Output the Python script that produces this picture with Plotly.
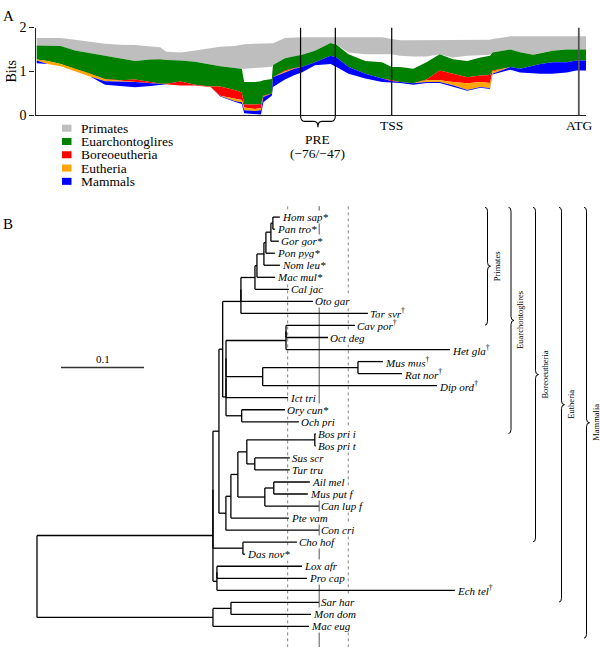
import re
import plotly.graph_objects as go

W, H = 600, 659
SERIF = "Liberation Serif"

# ---------------- Panel A data (position relative to TSS, bp; information in bits) ----------------
positions = [-296, -287, -276, -264, -251, -239, -226, -214, -201, -193, -188, -176, -164, -151, -143,
             -131, -125, -123, -114, -109, -107, -100, -99, -89, -81, -75, -64, -51, -46, -36, -22, -8,
             0, 7, 18, 29, 40, 51, 63, 74, 82, 84, 99, 107, 118, 124, 134, 146, 154, 162]
mammals_lo = [1.19, 1.17, 1.12, 1.00, 0.88, 0.70, 0.66, 0.64, 0.67, 0.70, 0.71, 0.68, 0.68, 0.64, 0.43,
              0.31, 0.26, 0.05, 0.02, 0.02, 0.30, 0.45, 0.65, 0.82, 0.92, 0.98, 1.14, 1.17, 1.10, 0.95, 0.84, 0.76,
              0.75, 0.74, 0.70, 0.74, 0.74, 0.66, 0.56, 0.63, 0.60, 0.93, 1.04, 0.98, 0.95, 0.95, 0.95, 0.98, 1.02, 1.02]
mammals_hi = [1.25, 1.17, 1.12, 1.00, 0.88, 0.78, 0.77, 0.76, 0.73, 0.72, 0.71, 0.68, 0.68, 0.64, 0.44,
              0.33, 0.30, 0.12, 0.10, 0.12, 0.42, 0.50, 0.87, 0.98, 1.06, 1.10, 1.21, 1.36, 1.32, 1.10, 0.95, 0.84,
              0.78, 0.76, 0.73, 0.76, 0.76, 0.69, 0.58, 0.65, 0.62, 0.95, 1.10, 1.06, 1.14, 1.17, 1.21, 1.21, 1.25, 1.25]
eutheria_hi = [1.27, 1.24, 1.17, 1.06, 0.95, 0.82, 0.79, 0.77, 0.74, 0.72, 0.71, 0.68, 0.68, 0.65, 0.45,
               0.38, 0.35, 0.18, 0.15, 0.17, 0.43, 0.50, 0.87, 1.00, 1.07, 1.10, 1.21, 1.36, 1.32, 1.10, 0.95, 0.84,
               0.78, 0.76, 0.73, 0.80, 0.80, 0.76, 0.73, 0.76, 0.74, 1.00, 1.10, 1.06, 1.14, 1.17, 1.21, 1.21, 1.25, 1.25]
boreo_hi = [1.27, 1.24, 1.17, 1.06, 0.95, 0.83, 0.80, 0.82, 0.76, 0.72, 0.72, 0.77, 0.70, 0.66, 0.66,
            0.58, 0.52, 0.25, 0.25, 0.26, 0.45, 0.50, 0.87, 1.02, 1.08, 1.10, 1.21, 1.36, 1.32, 1.10, 0.95, 0.84,
            0.80, 0.76, 0.73, 0.82, 1.02, 0.95, 0.87, 0.91, 0.92, 1.02, 1.10, 1.06, 1.14, 1.17, 1.21, 1.21, 1.25, 1.25]
euarch_hi = [1.59, 1.59, 1.58, 1.48, 1.42, 1.36, 1.30, 1.24, 1.27, 1.28, 1.26, 1.25, 1.22, 1.15, 1.12,
             1.08, 1.06, 0.76, 0.76, 0.78, 0.80, 0.83, 1.15, 1.30, 1.34, 1.38, 1.47, 1.65, 1.61, 1.39, 1.24, 1.21,
             1.10, 1.10, 1.06, 1.21, 1.39, 1.28, 1.24, 1.32, 1.36, 1.43, 1.50, 1.44, 1.38, 1.42, 1.47, 1.50, 1.50, 1.50]
primates_lo = [1.59, 1.59, 1.58, 1.48, 1.42, 1.36, 1.30, 1.24, 1.27, 1.28, 1.26, 1.25, 1.22, 1.15, 1.12,
               1.08, 1.06, 1.06, 1.08, 1.09, 1.10, 1.11, 1.15, 1.30, 1.34, 1.38, 1.47, 1.65, 1.61, 1.43, 1.39, 1.39,
               1.39, 1.36, 1.34, 1.34, 1.39, 1.32, 1.36, 1.37, 1.38, 1.43, 1.50, 1.44, 1.38, 1.42, 1.47, 1.50, 1.50, 1.50]
primates_hi = [1.76, 1.76, 1.76, 1.72, 1.68, 1.63, 1.61, 1.60, 1.57, 1.55, 1.45, 1.43, 1.48, 1.53, 1.56,
               1.58, 1.60, 1.62, 1.63, 1.63, 1.63, 1.63, 1.64, 1.76, 1.78, 1.78, 1.78, 1.78, 1.78, 1.78, 1.78, 1.78,
               1.74, 1.71, 1.71, 1.71, 1.71, 1.71, 1.71, 1.71, 1.72, 1.74, 1.80, 1.80, 1.80, 1.80, 1.80, 1.80, 1.80, 1.80]

band_order = ["Primates", "Euarchontoglires", "Boreoeutheria", "Eutheria", "Mammals"]
band_colors = {"Primates": "#bebebe", "Euarchontoglires": "#008000", "Boreoeutheria": "#ff0000",
               "Eutheria": "#ffa500", "Mammals": "#0000ff"}
band_bounds = {
    "Primates": (primates_lo, primates_hi),
    "Euarchontoglires": (boreo_hi, euarch_hi),
    "Boreoeutheria": (eutheria_hi, boreo_hi),
    "Eutheria": (mammals_hi, eutheria_hi),
    "Mammals": (mammals_lo, mammals_hi),
}
landmarks = {"TSS": 0, "ATG": 156}
pre_start, pre_end = -76, -47
xrange_bp = [-297, 162]
bits_ticks = [0, 1, 2]

# ---------------- Panel B data (phylogeny, branch lengths in substitutions/site) ----------------
clades = {
    "ROOT": "({EUTH}:0.2120,{MARS}:0.2120)",
    "EUTH": "(({BOREO}:0.0072,{XEN}:0.0361):0,{AFRO}:0.0048)",
    "BOREO": "({EUARCH}:0.0045,{LAUR}:0.0084)",
    "EUARCH": "({PRIM}:0.0220,{GLIRES}:0.0040)",
    "PRIM": "(({SIM}:0.0169,Oto_gar:0.0867):0,Tar_syr:0.1530)",
    "SIM": "({CAT}:0.0024,Cal_jac:0.0410)",
    "CAT": "({APES}:0.0084,Mac_mul:0.0217)",
    "APES": "({GA}:0.0024,Nom_leu:0.0193)",
    "GA": "({HPG}:0.0060,Pon_pyg:0.0108)",
    "HPG": "({HP}:0.0024,Gor_gor:0.0096)",
    "HP": "(Hom_sap:0.0084,Pan_tro:0.0024)",
    "GLIRES": "((({HYST}:0.0723,{MYO}:0.0442):0,Ict_tri:0.0747):0,{LAGO}:0.0189)",
    "HYST": "((Cav_por:0.0831,Oct_deg:0.0506):0,Het_gla:0.1976)",
    "MYO": "((Mus_mus:0.0301,Rat_nor:0.0530):0.1148,Dip_ord:0.2100)",
    "LAGO": "(Ory_cun:0.0522,Och_pri:0.0690)",
    "LAUR": "((({CET}:0.0108,{CARN}:0.0325):0.0084,Pte_vam:0.0699):0.0060,Con_cri:0.1120)",
    "CET": "((Bos_pri_i:0.0012,Bos_pri_t:0.0012):0.0819,(Sus_scr:0.0422,Tur_tru:0.0422):0.0096)",
    "CARN": "((Ail_mel:0.0434,Mus_put_f:0.0410):0.0108,Can_lup_f:0.0651)",
    "XEN": "(Cho_hof:0.0651,Das_nov:0.0024)",
    "AFRO": "((Lox_afr:0.1024,Pro_cap:0.1084):0,Ech_tel:0.2867)",
    "MARS": "((Sar_har:0.1060,Mon_dom:0.0964):0.0217,Mac_eug:0.1157)",
}
starred = ["Hom_sap", "Pan_tro", "Gor_gor", "Pon_pyg", "Nom_leu", "Mac_mul", "Ory_cun", "Das_nov"]
daggered = ["Tar_syr", "Cav_por", "Het_gla", "Mus_mus", "Rat_nor", "Dip_ord", "Ech_tel"]
clade_spans = [("Primates", 0, 8), ("Euarchontoglires", 0, 17), ("Boreoeutheria", 0, 26),
               ("Eutheria", 0, 31), ("Mammalia", 0, 34)]
ref_lines = [(0.302, "dot"), (0.340, "solid"), (0.375, "dot")]
scale_len = 0.1

# ---------------- geometry ----------------
A_left, A_right, A_top, A_bottom = 35.5, 586.0, 21.0, 111.0
tree_x0_px, px_per_unit = 37.0, 830.0
leaf_px0, leaf_step = 215.0, 12.32


def bp_px(b):
    return A_left + (b - xrange_bp[0]) / (xrange_bp[1] - xrange_bp[0]) * (A_right - A_left)


def leaf_px(i):
    return leaf_px0 + i * leaf_step


# ---------------- newick parsing ----------------
def expand(s):
    while "{" in s:
        s = re.sub(r"\{(\w+)\}", lambda m: clades[m.group(1)], s)
    return s


newick = expand(clades["ROOT"])


def parse(s):
    pos = [0]

    def node():
        n = {"children": [], "name": "", "length": 0.0}
        if s[pos[0]] == "(":
            pos[0] += 1
            while True:
                n["children"].append(node())
                ch = s[pos[0]]
                pos[0] += 1
                if ch == ")":
                    break
        st = pos[0]
        while pos[0] < len(s) and s[pos[0]] not in ",():;":
            pos[0] += 1
        n["name"] = s[st:pos[0]]
        if pos[0] < len(s) and s[pos[0]] == ":":
            pos[0] += 1
            st = pos[0]
            while pos[0] < len(s) and s[pos[0]] not in ",();":
                pos[0] += 1
            n["length"] = float(s[st:pos[0]])
        return n
    return node()


root = parse(newick)
leaves = []


def layout(n, x_parent):
    n["x"] = x_parent + n["length"]
    if not n["children"]:
        n["y"] = len(leaves)
        leaves.append(n)
    else:
        for c in n["children"]:
            layout(c, n["x"])
        n["y"] = (n["children"][0]["y"] + n["children"][-1]["y"]) / 2


layout(root, 0.0)
seg_x, seg_y = [], []


def segments(n):
    if n["children"]:
        seg_x.extend([n["x"], n["x"], None])
        seg_y.extend([n["children"][0]["y"], n["children"][-1]["y"], None])
        for c in n["children"]:
            seg_x.extend([n["x"], c["x"], None])
            seg_y.extend([c["y"], c["y"], None])
            segments(c)


segments(root)

# ---------------- figure ----------------
fig = go.Figure()

for name in band_order:
    lo, hi = band_bounds[name]
    c = band_colors[name]
    fig.add_trace(go.Scatter(x=positions, y=lo, mode="lines", line=dict(width=0, color=c),
                             showlegend=False, hoverinfo="skip", xaxis="x", yaxis="y"))
    fig.add_trace(go.Scatter(x=positions, y=hi, mode="lines", line=dict(width=0, color=c),
                             fill="tonexty", fillcolor=c, showlegend=False, hoverinfo="skip",
                             xaxis="x", yaxis="y"))

for b in [pre_start, pre_end, landmarks["TSS"]]:
    fig.add_trace(go.Scatter(x=[b, b], y=[0, 2], mode="lines", line=dict(color="black", width=1.2),
                             showlegend=False, hoverinfo="skip", xaxis="x", yaxis="y"))
fig.add_trace(go.Scatter(x=[landmarks["ATG"]] * 2, y=[0, 2], mode="lines",
                         line=dict(color="#555555", width=1.8), showlegend=False, hoverinfo="skip",
                         xaxis="x", yaxis="y"))

# tree reference lines
for xv, dash in ref_lines:
    fig.add_trace(go.Scatter(x=[xv, xv], y=[(204 - leaf_px0) / leaf_step, (655 - leaf_px0) / leaf_step],
                             mode="lines",
                             line=dict(color="#777777" if dash == "dot" else "#666666",
                                       width=0.9 if dash == "dot" else 1.1, dash=dash),
                             showlegend=False, hoverinfo="skip", xaxis="x2", yaxis="y2"))

# tree branches
fig.add_trace(go.Scatter(x=seg_x, y=seg_y, mode="lines", line=dict(color="black", width=1.3),
                         showlegend=False, hoverinfo="skip", xaxis="x2", yaxis="y2"))

# scale bar
sb_x0 = (61 - tree_x0_px) / px_per_unit
sb_y = (369 - leaf_px0) / leaf_step
fig.add_trace(go.Scatter(x=[sb_x0, sb_x0 + scale_len], y=[sb_y, sb_y], mode="lines",
                         line=dict(color="#333333", width=1.5), showlegend=False, hoverinfo="skip",
                         xaxis="x2", yaxis="y2"))

# dummy for pixel overlay axes
fig.add_trace(go.Scatter(x=[None], y=[None], showlegend=False, hoverinfo="skip", xaxis="x3", yaxis="y3"))

annotations = []
shapes = []

# tip labels
for lf in leaves:
    nm = lf["name"]
    label = nm.replace("_", " ")
    if nm in starred:
        txt = f"<i>{label}*</i>"
    elif nm in daggered:
        txt = f"<i>{label}</i><sup>†</sup>"
    else:
        txt = f"<i>{label}</i>"
    annotations.append(dict(x=lf["x"], y=lf["y"], xref="x2", yref="y2", text=txt, showarrow=False,
                            xanchor="left", yanchor="middle", xshift=1, bgcolor="white", borderpad=0,
                            font=dict(family=SERIF, size=11, color="black")))

annotations.append(dict(x=sb_x0 + scale_len / 2, y=sb_y, xref="x2", yref="y2", text="0.1",
                        showarrow=False, yanchor="bottom", yshift=1,
                        font=dict(family=SERIF, size=11, color="black")))


def px_ann(x, y, text, size=13.5, xanchor="center", angle=0):
    annotations.append(dict(x=x, y=y, xref="x3", yref="y3", text=text, showarrow=False,
                            xanchor=xanchor, yanchor="middle", textangle=angle,
                            font=dict(family=SERIF, size=size, color="black")))


px_ann(8, 9, "A", size=15)
px_ann(8, 222, "B", size=15)
px_ann(11, 66, "Bits", size=14, angle=-90)

for name, b in landmarks.items():
    px_ann(bp_px(b), 121, name, size=13.5)

# PRE brace
xl, xr = bp_px(pre_start), bp_px(pre_end)
xm = (xl + xr) / 2
shapes.append(dict(type="path", xref="x3", yref="y3", line=dict(color="black", width=1.1),
                   path=(f"M {xl},{A_bottom} Q {xl},{A_bottom + 6} {xl + 4},{A_bottom + 6} "
                         f"L {xm - 4},{A_bottom + 6} Q {xm},{A_bottom + 6} {xm},{A_bottom + 12} "
                         f"Q {xm},{A_bottom + 6} {xm + 4},{A_bottom + 6} L {xr - 4},{A_bottom + 6} "
                         f"Q {xr},{A_bottom + 6} {xr},{A_bottom}")))
px_ann(xm, 136, "PRE", size=13.5)
px_ann(xm, 150, "(−76/−47)", size=13.5)

# legend
for k, name in enumerate(band_order):
    yc = 124 + k * 13.6
    shapes.append(dict(type="rect", xref="x3", yref="y3", x0=62, x1=71.5, y0=yc - 3.6, y1=yc + 3.6,
                       fillcolor=band_colors[name], line=dict(width=0)))
    px_ann(79, yc, name, size=13.5, xanchor="left")

# clade braces
brace_x = [485, 508.5, 533, 559, 584]
for (name, i0, i1), bx in zip(clade_spans, brace_x):
    top = leaf_px(i0) - 10
    bot = leaf_px(i1) + 12
    mid = (top + bot) / 2
    shapes.append(dict(type="path", xref="x3", yref="y3", line=dict(color="black", width=1),
                       path=(f"M {bx},{top} Q {bx + 2.5},{top} {bx + 2.5},{top + 4} "
                             f"L {bx + 2.5},{mid - 4} Q {bx + 2.5},{mid} {bx + 5.5},{mid} "
                             f"Q {bx + 2.5},{mid} {bx + 2.5},{mid + 4} L {bx + 2.5},{bot - 4} "
                             f"Q {bx + 2.5},{bot} {bx},{bot}")))
    px_ann(bx + 12, mid, name, size=8.5, angle=-90)

fig.update_layout(
    width=W, height=H, margin=dict(l=0, r=0, t=0, b=0),
    paper_bgcolor="white", plot_bgcolor="rgba(0,0,0,0)",
    showlegend=False,
    xaxis=dict(domain=[A_left / W, A_right / W], range=xrange_bp, showline=True, linecolor="#222",
               linewidth=1.2, showticklabels=False, ticks="", showgrid=False, zeroline=False, anchor="y",
               fixedrange=True),
    yaxis=dict(domain=[1 - A_bottom / H, 1 - A_top / H], range=[0, 2], tickvals=bits_ticks,
               ticks="outside", ticklen=5, tickwidth=1.2, tickcolor="#222", showline=True,
               linecolor="#222", linewidth=1.2, showgrid=False, zeroline=False, anchor="x",
               tickfont=dict(family=SERIF, size=14, color="black"), fixedrange=True),
    xaxis2=dict(domain=[0, 1], range=[-tree_x0_px / px_per_unit, (W - tree_x0_px) / px_per_unit],
                visible=False, anchor="y2", fixedrange=True),
    yaxis2=dict(domain=[0, 1], range=[(H - leaf_px0) / leaf_step, -leaf_px0 / leaf_step],
                visible=False, anchor="x2", fixedrange=True),
    xaxis3=dict(domain=[0, 1], range=[0, W], visible=False, anchor="y3", fixedrange=True),
    yaxis3=dict(domain=[0, 1], range=[H, 0], visible=False, anchor="x3", fixedrange=True),
    annotations=annotations,
    shapes=shapes,
)

fig.write_html("out.html", config={"displayModeBar": False},
               post_script="document.body.style.margin='0px';document.body.style.overflow='hidden';")
